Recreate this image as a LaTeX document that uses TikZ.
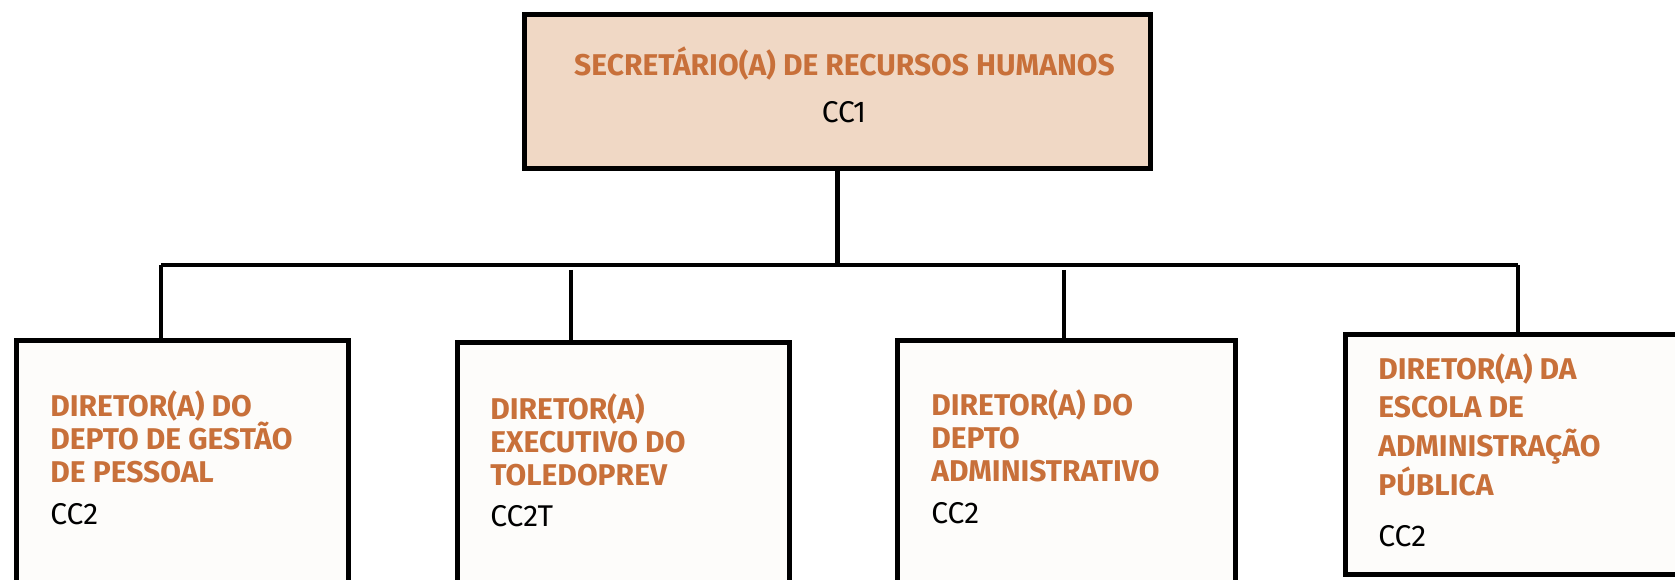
\documentclass[tikz,border=0pt]{standalone}
\usepackage{fontspec}
\setmainfont{Fira Sans}
\definecolor{laranja}{HTML}{C8703A}
\definecolor{topo}{HTML}{F0D8C5}
\definecolor{caixa}{HTML}{FDFCFA}

\begin{document}
\begin{tikzpicture}[x=0.5pt,y=0.5pt,
    chefe/.style={draw, line width=2.5pt, fill=topo, anchor=north west,
      minimum width=313pt, minimum height=77pt, inner sep=0pt},
    diretor/.style={draw, line width=2.5pt, fill=caixa, anchor=north west,
      minimum height=150pt, inner sep=0pt},
    cargo/.style={text=laranja, font=\bfseries\fontsize{15}{16.5}\selectfont,
      align=left, anchor=north west, inner sep=0pt},
    nivel/.style={font=\fontsize{15}{16}\selectfont, anchor=north west, inner sep=0pt},
    ligacao/.style={line width=2.3pt}]
  \useasboundingbox (0,0) rectangle (1675,579);

  % caixas
  \node[chefe] (sec) at (522,567) {};
  \node[diretor, minimum width=166pt] (dgp) at (14,241) {};
  \node[diretor, minimum width=166pt] (prev) at (455,239) {};
  \node[diretor, minimum width=169pt] (adm) at (895,241) {};
  \node[diretor, minimum width=177.5pt, minimum height=120pt] (esc) at (1343,247) {};

  % textos
  \node[cargo, anchor=center] (tsec) at (844.5,515) {SECRETÁRIO(A) DE RECURSOS HUMANOS};
  \node[nivel, anchor=center] (nsec) at (844,467) {CC1};

  \node[cargo] (tdgp) at (50,189) {DIRETOR(A) DO\\DEPTO DE GESTÃO\\DE PESSOAL};
  \node[nivel] (ndgp) at (50,76) {CC2};

  \node[cargo] (tprev) at (490,186) {DIRETOR(A)\\EXECUTIVO DO\\TOLEDOPREV};
  \node[nivel] (nprev) at (490,74) {CC2T};

  \node[cargo] (tadm) at (931,190) {DIRETOR(A) DO\\DEPTO\\ADMINISTRATIVO};
  \node[nivel] (nadm) at (931,77) {CC2};

  \node[cargo, font=\bfseries\fontsize{15}{19.4}\selectfont] (tesc) at (1378,226)
    {DIRETOR(A) DA\\ESCOLA DE\\ADMINISTRAÇÃO\\PÚBLICA};
  \node[nivel] (nesc) at (1378,54) {CC2};

  % ligacoes
  \coordinate (busE) at (161,314);
  \coordinate (busD) at (1518,314);
  \coordinate (busM) at (sec.south |- busE);
  \coordinate (d2) at (571,309);
  \coordinate (d3) at (1064,309);

  \draw[ligacao] (sec.south) -- (busM);
  \draw[ligacao, line width=1.6pt] (busE) -- (busD);
  \draw[ligacao] (busE |- dgp.north) -- (busE);
  \draw[ligacao] (busD |- esc.north) -- (busD);
  \draw[ligacao] (d2) -- (d2 |- prev.north);
  \draw[ligacao] (d3) -- (d3 |- adm.north);
\end{tikzpicture}
\end{document}
